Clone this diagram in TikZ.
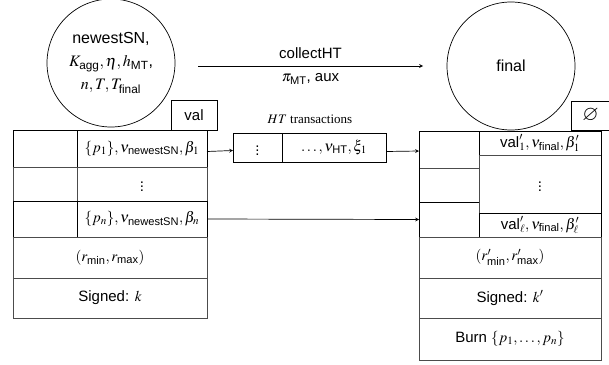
\documentclass[tikz,border=0pt]{standalone}
\usepackage{amsmath}
\usepackage{amssymb}
\usepackage{mathptmx}
\usepackage[no-math]{fontspec}
\setmainfont{Liberation Sans}
\newfontfamily\serifrm{Liberation Serif}
\usetikzlibrary{arrows}
\tikzstyle{arrow} = [->,>=stealth,line width=0.7pt]
\tikzstyle{cell} = [draw=black!70,line width=0.7pt,rectangle,inner sep=0pt,outer sep=0pt]
\tikzstyle{item} = [cell,draw=black,line width=1pt]
\tikzstyle{bub} = [draw,circle,line width=0.7pt,inner sep=0pt,minimum size=128pt,align=center]
\newcommand{\sub}[1]{\text{#1}}

\begin{document}
\begin{tikzpicture}[x=1pt,y=-1pt,font=\fontsize{15}{19}\selectfont]
\useasboundingbox (0,0) rectangle (609,364);

\node[bub,font=\fontsize{16}{23}\selectfont] (state) at (111,63)
  {newestSN,\\ $K_{\sub{agg}}, \eta, h_{\sub{MT}}$,\\ $n, T, T_{\sub{final}}$};
\node[bub,font=\fontsize{16}{23}\selectfont] (final) at (511,66) {final};

\node[cell,draw=black,minimum width=46pt,minimum height=30pt] (val) at (194,115) {val};
\node[cell,draw=black,minimum width=39pt,minimum height=29pt,font=\fontsize{21}{21}\selectfont] (empty) at (590.5,115.5) {$\varnothing$};

\node[item,minimum width=64pt,minimum height=37pt] (l1a) at (45,148.5) {};
\node[item,minimum width=130pt,minimum height=37pt] (l1b) at (142,148.5)
  {$\{p_1\}, \nu_{\sub{newestSN}}, \beta_1$};
\node[cell,minimum width=64pt,minimum height=34pt] (l2a) at (45,184) {};
\node[cell,minimum width=130pt,minimum height=34pt] (l2b) at (142,184) {$\vdots$};
\node[item,minimum width=64pt,minimum height=36pt] (l3a) at (45,219) {};
\node[item,minimum width=130pt,minimum height=36pt] (l3b) at (142,219)
  {$\{p_n\}, \nu_{\sub{newestSN}}, \beta_n$};
\node[cell,minimum width=194pt,minimum height=41pt] (lrange) at (110,257.5)
  {$(r_{\sub{min}}, r_{\sub{max}})$};
\node[cell,minimum width=194pt,minimum height=40pt] (lsig) at (110,298) {Signed: $k$};

\node[font=\serifrm\fontsize{13}{16}\selectfont] (htlab) at (310,119) {$HT$ transactions};
\node[cell,draw=black,minimum width=49pt,minimum height=29pt] (ht1) at (257.5,147.5) {$\vdots$};
\node[cell,draw=black,minimum width=104pt,minimum height=29pt] (ht2) at (334,147.5)
  {$\ldots, \nu_{\sub{HT}}, \xi_1$};

\node[item,minimum width=60pt,minimum height=37pt] (r1a) at (449,149.5) {};
\node[cell,minimum width=60pt,minimum height=34pt] (r2a) at (449,185) {};
\node[item,minimum width=60pt,minimum height=35pt] (r3a) at (449,219.5) {};
\node[item,minimum width=122pt,minimum height=24pt] (r1b) at (540,143)
  {$\sub{val}'_1, \nu_{\sub{final}}, \beta'_1$};
\node[cell,minimum width=122pt,minimum height=58pt] (r2b) at (540,184) {$\vdots$};
\node[item,minimum width=122pt,minimum height=24pt] (r3b) at (540,225)
  {$\sub{val}'_{\ell}, \nu_{\sub{final}}, \beta'_{\ell}$};
\draw[line width=1pt] (r1a.north west) rectangle (r3b.south east);
\node[cell,minimum width=182pt,minimum height=41pt] (rrange) at (510,257.5)
  {$(r'_{\sub{min}}, r'_{\sub{max}})$};
\node[cell,minimum width=182pt,minimum height=40pt] (rsig) at (510,298) {Signed: $k'$};
\node[cell,minimum width=182pt,minimum height=42pt] (rburn) at (510,339)
  {Burn $\{p_1, \ldots, p_n\}$};

\coordinate (cfrom) at (198,66);
\coordinate (cto) at (423,66);
\draw[arrow] (cfrom) -- (cto) node[midway,anchor=south,yshift=4pt]{collectHT}
  node[midway,anchor=north,yshift=-4pt]{$\pi_{\sub{MT}}$, aux};
\draw[arrow] ([yshift=-3pt]l1b.east) -- ([yshift=-3pt]ht1.west);
\draw[arrow] ([yshift=-4pt]ht2.east) -- ([yshift=-1.5pt]r1a.west);
\draw[arrow] (l3b.east) -- (r3a.west);
\end{tikzpicture}
\end{document}
